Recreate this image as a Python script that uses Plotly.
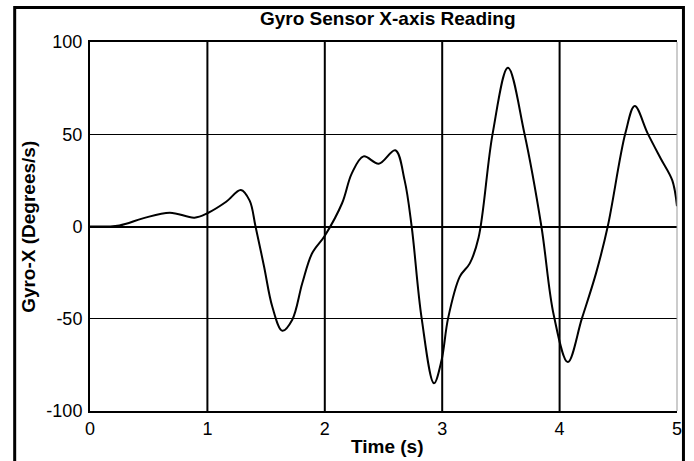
import plotly.graph_objects as go

# Data
time_s = [0.0, 0.25, 0.45, 0.68, 0.89, 1.0, 1.16, 1.285, 1.36, 1.41, 1.483, 1.553,
          1.638, 1.723, 1.808, 1.892, 2.0, 2.147, 2.23, 2.33, 2.46, 2.6, 2.68,
          2.74, 2.825, 2.93, 2.995, 3.05, 3.15, 3.235, 3.31, 3.43, 3.56, 3.70,
          3.845, 3.95, 4.07, 4.19, 4.31, 4.41, 4.56, 4.64, 4.75, 4.86, 4.96, 5.0]
gyro_x = [0.0, 0.6, 4.4, 7.5, 4.8, 7.2, 13.4, 19.8, 14.0, 0.0, -21.8, -43.5,
          -56.5, -50.5, -30.8, -14.5, -5.0, 12.6, 28.8, 38.0, 34.0, 41.3, 25.0,
          0.0, -49.8, -85.0, -72.4, -49.8, -27.2, -20.0, -6.0, 50.5, 86.0, 50.5,
          0.0, -48.0, -73.5, -49.8, -25.4, 0.0, 50.5, 65.3, 50.5, 37.0, 25.0, 11.0]

x_ticks = [0, 1, 2, 3, 4, 5]
y_ticks = [-100, -50, 0, 50, 100]

title_text = "Gyro Sensor X-axis Reading"
x_title = "Time (s)"
y_title = "Gyro-X (Degrees/s)"

FONT = "Liberation Sans, Arial, sans-serif"

fig = go.Figure()
fig.add_trace(go.Scatter(
    x=time_s, y=gyro_x, mode="lines",
    line=dict(color="black", width=2, shape="spline", smoothing=1.0),
    showlegend=False, hoverinfo="x+y",
))

shapes = []
# vertical grid lines at interior ticks
for t in x_ticks[1:-1]:
    shapes.append(dict(type="line", xref="x", yref="paper", x0=t, x1=t, y0=0, y1=1,
                       line=dict(color="black", width=2), layer="below"))
# thin right edge of plot area
shapes.append(dict(type="line", xref="paper", yref="paper", x0=1, x1=1, y0=0, y1=1,
                   line=dict(color="#999999", width=1)))
# outer figure border
shapes.append(dict(type="rect", xref="paper", yref="paper",
                   x0=-0.1283, x1=1.0110, y0=-0.1409, y1=1.0935,
                   line=dict(color="black", width=3)))

annotations = [
    dict(text="<b>%s</b>" % title_text, xref="paper", yref="paper", x=0.507, y=1.0650,
         xanchor="center", yanchor="middle", showarrow=False,
         font=dict(family=FONT, size=19, color="black")),
    dict(text="<b>%s</b>" % x_title, xref="paper", yref="paper", x=0.507, y=-0.0949,
         xanchor="center", yanchor="middle", showarrow=False,
         font=dict(family=FONT, size=19, color="black")),
    dict(text="<b>%s</b>" % y_title, xref="paper", yref="paper", x=-0.105, y=0.5,
         xanchor="center", yanchor="middle", showarrow=False, textangle=-90,
         font=dict(family=FONT, size=19, color="black")),
]

fig.update_layout(
    width=694, height=461,
    margin=dict(l=90, r=14, t=42, b=50),
    paper_bgcolor="white", plot_bgcolor="white",
    font=dict(family=FONT, size=18, color="black"),
    shapes=shapes, annotations=annotations,
    xaxis=dict(range=[0, 5], tickvals=x_ticks, ticktext=[str(v) for v in x_ticks],
               showgrid=False, zeroline=False, showline=True, linecolor="black",
               linewidth=2, mirror=True, ticks="", ticklabelstandoff=0,
               fixedrange=True),
    yaxis=dict(range=[-100, 100], tickvals=y_ticks, ticktext=[str(v) for v in y_ticks],
               showgrid=True, gridcolor="black", gridwidth=1,
               zeroline=True, zerolinecolor="black", zerolinewidth=2,
               showline=True, linecolor="black", linewidth=2, mirror=False,
               ticks="", ticklabelstandoff=2, fixedrange=True),
)

fig.write_html("out.html", config={"displayModeBar": False},
               post_script="document.body.style.margin='0';document.body.style.overflow='hidden';")
